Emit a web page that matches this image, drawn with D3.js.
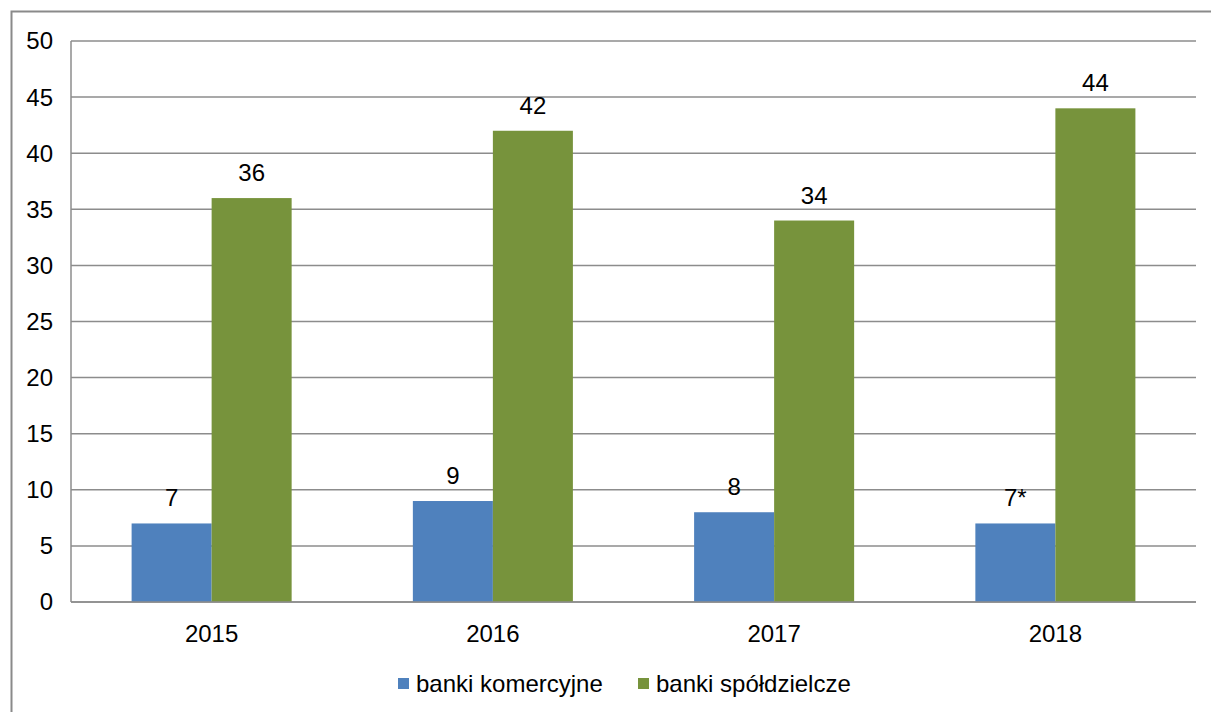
<!DOCTYPE html>
<html>
<head>
<meta charset="utf-8">
<script src="https://cdn.jsdelivr.net/npm/d3@7"></script>
<style>
  html, body { margin: 0; padding: 0; background: #fff; }
  svg { display: block; font-family: "Liberation Sans", Arial, sans-serif; }
</style>
</head>
<body>
<svg id="chart" width="1211" height="712"></svg>
<script>
const years = ["2015", "2016", "2017", "2018"];
const seriesNames = ["banki komercyjne", "banki spółdzielcze"];
const komercyjne = [7, 9, 8, 7];
const spoldzielcze = [36, 42, 34, 44];
const komercyjneLabels = ["7", "9", "8", "7*"];
const spoldzielczeLabels = ["36", "42", "34", "44"];
const yTicks = [0, 5, 10, 15, 20, 25, 30, 35, 40, 45, 50];
const colors = ["#4F81BD", "#77933C"];

(function () {
const svg = d3.select("#chart");
const W = 1211, H = 712;
const pLeft = 71, pRight = 1196, pTop = 41, pBottom = 602;
const fontSize = 24;

// outer border
svg.append("rect")
  .attr("x", 11.5).attr("y", 11.5)
  .attr("width", W).attr("height", H)
  .attr("fill", "none").attr("stroke", "#8a8a8a").attr("stroke-width", 2);

const y = d3.scaleLinear().domain([0, 50]).range([pBottom, pTop]);
const x0 = d3.scaleBand().domain(years).range([pLeft, pRight])
  .paddingInner(0.431).paddingOuter(0.2155);
const x1 = d3.scaleBand().domain(seriesNames).range([0, x0.bandwidth()]);

// gridlines
svg.append("g").selectAll("line").data(yTicks).join("line")
  .attr("x1", pLeft).attr("x2", pRight)
  .attr("y1", d => y(d)).attr("y2", d => y(d))
  .attr("stroke", "#8c8c8c").attr("stroke-width", 1.5);

// y axis line
svg.append("line").attr("x1", pLeft).attr("x2", pLeft)
  .attr("y1", pTop).attr("y2", pBottom)
  .attr("stroke", "#8c8c8c").attr("stroke-width", 1.5);

// y tick labels
svg.append("g").selectAll("text").data(yTicks).join("text")
  .attr("x", 53).attr("y", d => y(d))
  .attr("dy", "0.35em")
  .attr("text-anchor", "end")
  .attr("font-size", fontSize).attr("fill", "#000")
  .text(d => d);

const series = [
  { name: seriesNames[0], values: komercyjne, labels: komercyjneLabels, color: colors[0] },
  { name: seriesNames[1], values: spoldzielcze, labels: spoldzielczeLabels, color: colors[1] }
];

series.forEach(s => {
  const g = svg.append("g");
  g.selectAll("rect").data(years).join("rect")
    .attr("x", (d) => x0(d) + x1(s.name))
    .attr("width", x1.bandwidth())
    .attr("y", (d, i) => y(s.values[i]))
    .attr("height", (d, i) => y(0) - y(s.values[i]))
    .attr("fill", s.color);
  g.selectAll("text").data(years).join("text")
    .attr("x", (d) => x0(d) + x1(s.name) + x1.bandwidth() / 2)
    .attr("y", (d, i) => y(s.values[i]) - 17)
    .attr("text-anchor", "middle")
    .attr("font-size", fontSize).attr("fill", "#000")
    .text((d, i) => s.labels[i]);
});

// baseline above bars
svg.append("line").attr("x1", pLeft).attr("x2", pRight)
  .attr("y1", y(0)).attr("y2", y(0))
  .attr("stroke", "#8c8c8c").attr("stroke-width", 1.5);

// x labels
svg.append("g").selectAll("text").data(years).join("text")
  .attr("x", d => x0(d) + x0.bandwidth() / 2)
  .attr("y", 641.5)
  .attr("text-anchor", "middle")
  .attr("font-size", fontSize).attr("fill", "#000")
  .text(d => d);

// legend
const legendItems = [
  { name: seriesNames[0], color: colors[0], x: 398 },
  { name: seriesNames[1], color: colors[1], x: 638 }
];
const lg = svg.append("g");
legendItems.forEach(it => {
  lg.append("rect").attr("x", it.x).attr("y", 678).attr("width", 11).attr("height", 11)
    .attr("fill", it.color);
  lg.append("text").attr("x", it.x + 18).attr("y", 692)
    .attr("font-size", fontSize).attr("fill", "#000")
    .text(it.name);
});
})();
</script>
</body>
</html>
